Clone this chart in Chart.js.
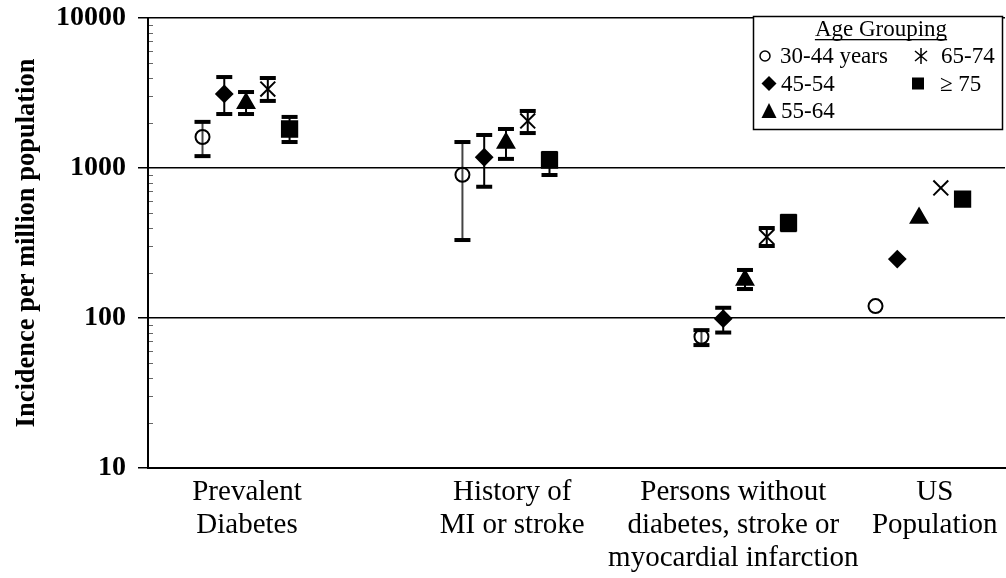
<!DOCTYPE html>
<html>
<head>
<meta charset="utf-8">
<script src="https://cdn.jsdelivr.net/npm/chart.js@4/dist/chart.umd.min.js"></script>
<style>
  html, body { margin: 0; padding: 0; background: #fff; }
  canvas { display: block; }
</style>
</head>
<body>
<canvas id="c" width="1006" height="578"></canvas>
<script>
// ---------- data ----------
const categories = [
  ["Prevalent", "Diabetes"],
  ["History of", "MI or stroke"],
  ["Persons without", "diabetes, stroke or", "myocardial infarction"],
  ["US", "Population"]
];
const ageGroups = ["30-44 years", "45-54", "55-64", "65-74", "\u2265 75"];
const yTicks = [10, 100, 1000, 10000];

const age30to44     = [1610, 900, 75, 120];
const age30to44Low  = [1200, 331, 66, null];
const age30to44High = [2030, 1490, 83, null];

const age45to54     = [3120, 1180, 99, 247];
const age45to54Low  = [2290, 750, 80, null];
const age45to54High = [4040, 1660, 117, null];

const age55to64     = [2700, 1470, 179, 464];
const age55to64Low  = [2290, 1150, 156, null];
const age55to64High = [3210, 1820, 209, null];

const age65to74     = [3360, 2060, 347, 736];
const age65to74Low  = [2800, 1710, 302, null];
const age65to74High = [3980, 2400, 398, null];

const age75plus     = [1820, 1130, 430, 621];
const age75plusLow  = [1490, 898, 385, null];
const age75plusHigh = [2190, 1260, 480, null];

// ---------- layout (x axis units 0..100) ----------
const groupCenters = [11.44, 41.77, 69.66, 89.97];
const labelCenters = [11.55, 42.5, 68.3, 91.8];
const ageStep = 2.54;

const seriesVals = [age30to44, age45to54, age55to64, age65to74, age75plus];
const seriesLow  = [age30to44Low, age45to54Low, age55to64Low, age65to74Low, age75plusLow];
const seriesHigh = [age30to44High, age45to54High, age55to64High, age65to74High, age75plusHigh];

const styles = [
  { pointStyle: 'circle',   radius: 7,    fill: 'rgba(0,0,0,0)' },
  { pointStyle: 'rectRot',  radius: 8,    fill: '#000' },
  { pointStyle: 'triangle', radius: 9.5,  fill: '#000' },
  { pointStyle: 'crossRot', radius: 10.5, fill: '#000' },
  { pointStyle: 'rect',     radius: 10.8, fill: '#000' }
];

const SERIF = "'Liberation Serif', 'Times New Roman', serif";

const datasets = ageGroups.map((name, a) => ({
  label: name,
  data: categories.map((c, g) => ({
    x: groupCenters[g] + (a - 2) * ageStep,
    y: seriesVals[a][g],
    lo: seriesLow[a][g],
    hi: seriesHigh[a][g]
  })),
  pointStyle: styles[a].pointStyle,
  pointRadius: styles[a].radius,
  pointBorderWidth: 2,
  borderColor: '#000',
  backgroundColor: styles[a].fill,
  pointBackgroundColor: styles[a].fill,
  pointBorderColor: '#000',
  showLine: false
}));

// error bars
const errorBars = {
  id: 'errorBars',
  beforeDatasetsDraw(chart) {
    const c = chart.ctx, xs = chart.scales.x, ys = chart.scales.y;
    c.save();
    chart.data.datasets.forEach((ds, a) => {
      ds.data.forEach(p => {
        if (p.lo == null || p.hi == null) return;
        const px = xs.getPixelForValue(p.x);
        const pl = ys.getPixelForValue(p.lo);
        const ph = ys.getPixelForValue(p.hi);
        c.strokeStyle = (a === 0) ? '#444' : '#000';
        c.lineWidth = 2;
        c.beginPath();
        c.moveTo(px, pl); c.lineTo(px, ph);
        c.stroke();
        c.fillStyle = '#000';
        c.fillRect(px - 8, ph - 2, 16, 4);
        c.fillRect(px - 8, pl - 2, 16, 4);
      });
    });
    c.restore();
  }
};

// minor ticks on log axis
const minorTicks = {
  id: 'minorTicks',
  afterDraw(chart) {
    const c = chart.ctx, ys = chart.scales.y, left = chart.chartArea.left;
    c.save();
    c.strokeStyle = '#666';
    c.lineWidth = 1;
    for (let d = 0; d < yTicks.length - 1; d++) {
      for (let m = 2; m <= 9; m++) {
        const py = Math.round(ys.getPixelForValue(yTicks[d] * m)) + 0.5;
        c.beginPath();
        c.moveTo(left + 1, py); c.lineTo(left + 5, py);
        c.stroke();
      }
    }
    c.restore();
  }
};

// custom legend
function drawSymbol(c, kind, x, y) {
  c.save();
  c.fillStyle = '#000'; c.strokeStyle = '#000';
  c.beginPath();
  if (kind === 'circle') {
    c.lineWidth = 1.5;
    c.arc(x, y, 5, 0, Math.PI * 2);
    c.stroke();
  } else if (kind === 'diamond') {
    c.moveTo(x, y - 7.5); c.lineTo(x + 7.5, y); c.lineTo(x, y + 7.5); c.lineTo(x - 7.5, y);
    c.closePath(); c.fill();
  } else if (kind === 'triangle') {
    c.moveTo(x, y - 8); c.lineTo(x + 7.5, y + 7); c.lineTo(x - 7.5, y + 7);
    c.closePath(); c.fill();
  } else if (kind === 'asterisk') {
    c.lineWidth = 1.5;
    c.moveTo(x - 6, y - 5); c.lineTo(x + 6, y + 5);
    c.moveTo(x + 6, y - 5); c.lineTo(x - 6, y + 5);
    c.moveTo(x, y - 8); c.lineTo(x, y + 8);
    c.stroke();
  } else if (kind === 'square') {
    c.fillRect(x - 6, y - 6, 12, 12);
  }
  c.restore();
}

const ageLegend = {
  id: 'ageLegend',
  afterDraw(chart) {
    const c = chart.ctx;
    c.save();
    c.fillStyle = '#fff';
    c.fillRect(753, 16, 250, 114);
    c.strokeStyle = '#000';
    c.lineWidth = 1.5;
    c.strokeRect(753.5, 16.5, 249, 113);
    c.fillStyle = '#000';
    c.font = '23px ' + SERIF;
    c.textBaseline = 'alphabetic';
    c.textAlign = 'center';
    const title = 'Age Grouping';
    c.fillText(title, 881, 36);
    const tw = c.measureText(title).width;
    c.fillRect(881 - tw / 2, 39, tw, 1.3);
    c.textAlign = 'left';
    const kinds = ['circle', 'diamond', 'triangle', 'asterisk', 'square'];
    const pos = [
      { sx: 765, tx: 780, row: 0 },
      { sx: 769, tx: 781, row: 1 },
      { sx: 769, tx: 781, row: 2 },
      { sx: 921, tx: 941, row: 0 },
      { sx: 918, tx: 940, row: 1 }
    ];
    const base = [63, 90.5, 118];
    ageGroups.forEach((g, i) => {
      const p = pos[i];
      drawSymbol(c, kinds[i], p.sx, base[p.row] - 7);
      c.fillText(g, p.tx, base[p.row]);
    });
    c.restore();
  }
};

new Chart(document.getElementById('c'), {
  type: 'scatter',
  data: { datasets },
  options: {
    responsive: false,
    animation: false,
    events: [],
    devicePixelRatio: 1,
    layout: { autoPadding: false, padding: { top: 18, right: 1, bottom: 0, left: 0 } },
    plugins: { legend: { display: false }, tooltip: { enabled: false } },
    scales: {
      x: {
        type: 'linear', min: 0, max: 100,
        afterBuildTicks: s => { s.ticks = labelCenters.map(v => ({ value: v })); },
        ticks: {
          autoSkip: false, maxRotation: 0, minRotation: 0,
          callback: (v, i) => categories[i],
          font: { family: SERIF, size: 29, lineHeight: 33 / 29 },
          color: '#000', padding: 8
        },
        grid: { display: false, drawTicks: false },
        border: { display: true, color: '#000', width: 2 },
        afterFit: s => { s.height = 110; s.paddingLeft = 0; s.paddingRight = 0; }
      },
      y: {
        type: 'logarithmic', min: 10, max: 10000,
        afterBuildTicks: s => { s.ticks = yTicks.map(v => ({ value: v, major: true })); },
        ticks: {
          callback: v => String(v),
          font: { family: SERIF, size: 28, weight: 'bold' },
          color: '#000', padding: 12
        },
        grid: { color: '#000', lineWidth: 1.5, tickLength: 10, drawTicks: true },
        border: { display: true, color: '#000', width: 2 },
        title: {
          display: true, text: 'Incidence per million population',
          font: { family: SERIF, size: 26.5, weight: 'bold', lineHeight: 1.2 },
          color: '#000', padding: { top: 11, bottom: 0 }
        },
        afterFit: s => { s.width = 148; s.paddingTop = 0; s.paddingBottom = 0; }
      }
    }
  },
  plugins: [errorBars, minorTicks, ageLegend]
});
</script>
</body>
</html>
